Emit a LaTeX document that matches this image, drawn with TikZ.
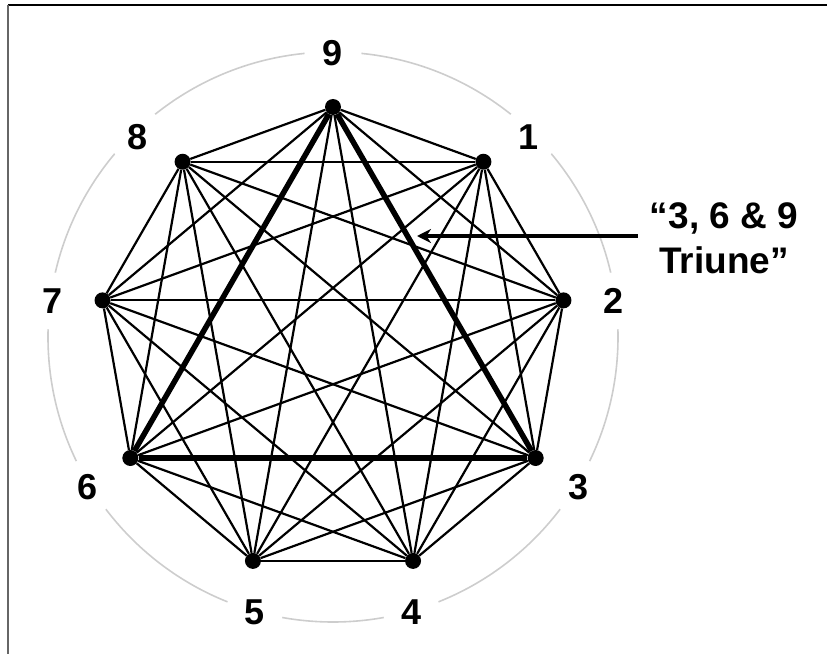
\documentclass[tikz,border=0pt]{standalone}
\usepackage{fontspec}
\setmainfont{Liberation Sans}
\usepackage{tikz}
\usetikzlibrary{arrows.meta}
\definecolor{ring}{RGB}{205,205,205}

\begin{document}
\begin{tikzpicture}[
  x=1pt,y=1pt,
  dot/.style={circle,fill=black,inner sep=0pt,minimum size=16pt},
  num/.style={circle,fill=white,inner sep=0pt,minimum size=57pt,
              font=\fontsize{36}{42}\selectfont\bfseries},
  note/.style={font=\fontsize{37}{45}\selectfont\bfseries,align=center,inner sep=12pt},
  edge/.style={line width=2.2pt},
  tri/.style={line width=5.5pt},
  ar/.style={-{Stealth[length=14pt,width=14pt]},line width=4pt}
]
\useasboundingbox (-333,-313) rectangle (494,341);
% frame (top and left edge only)
\draw[line width=1.4pt] (-325,336) -- (494,336);
\draw[line width=1.4pt,black!60] (-325,336) -- (-325,-313);

% grey ring and the numbers on it
\draw[ring,line width=1.6pt] (0,4) circle[radius=285];
\foreach \n/\a/\r in {9/90/284,1/45.7/280,2/7.3/283,3/-31.5/288,4/-74/286,
                      5/-106/286,6/-148.5/288,7/172.7/283,8/134.3/280}
  \node[num] (l\n) at ([shift={(0,4)}]\a:\r) {\n};

% points of the nonagon
\foreach \n [count=\i from 0] in {9,1,2,3,4,5,6,7,8}
  \node[dot] (n\n) at ({90-40*\i}:234) {};

% every pair joined
\foreach \a in {1,...,9}
  \foreach \b in {1,...,9}
    {\ifnum\a<\b \draw[edge] (n\a) -- (n\b); \fi}

% triangle 3-6-9
\draw[tri] (n9) -- (n3);
\draw[tri] (n3) -- (n6);
\draw[tri] (n6) -- (n9);

% note with arrow
\node[note] (txt) at (391,103) {“3, 6 \& 9\\Triune”};
\coordinate (tip) at (84,105);
\draw[ar] (tip -| txt.west) -- (tip);
\end{tikzpicture}
\end{document}
